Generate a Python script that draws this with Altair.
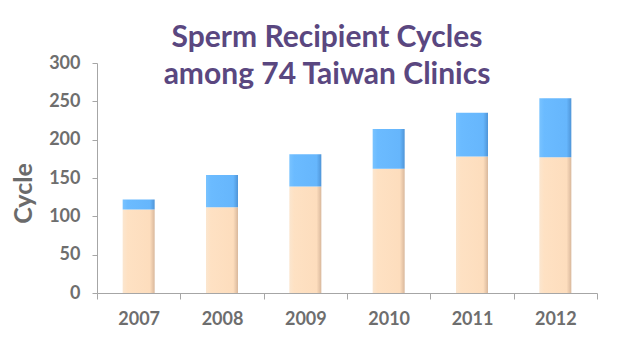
import altair as alt
import pandas as pd

years = ["2007", "2008", "2009", "2010", "2011", "2012"]
lower = [109, 112, 139, 162, 178, 177]
upper = [13, 42, 42, 52, 57, 77]

df = pd.DataFrame({"year": years, "lower": lower, "upper": upper})
df["total"] = df["lower"] + df["upper"]

peach = alt.Gradient(
    gradient="linear", x1=0, x2=1, y1=0, y2=0,
    stops=[alt.GradientStop(color="#FBE6CF", offset=0),
           alt.GradientStop(color="#FEE1C3", offset=0.15),
           alt.GradientStop(color="#FDDDBD", offset=0.85),
           alt.GradientStop(color="#D9B89C", offset=1)])
blue = alt.Gradient(
    gradient="linear", x1=0, x2=1, y1=0, y2=0,
    stops=[alt.GradientStop(color="#79C3FF", offset=0),
           alt.GradientStop(color="#6BBBFF", offset=0.15),
           alt.GradientStop(color="#66B6FC", offset=0.85),
           alt.GradientStop(color="#4F95D8", offset=1)])

xenc = alt.X("year:N", title=None,
             scale=alt.Scale(paddingInner=0, paddingOuter=0),
             axis=alt.Axis(labelAngle=0, tickBand="extent", tickSize=6,
                           labelPadding=11, labelFontSize=18, labelFont="Lato",
                           labelFontWeight="bold",
                           labelColor="#6E6E6E", domainColor="#A6A6A6",
                           tickColor="#A6A6A6"))

yaxis = alt.Axis(values=[0, 50, 100, 150, 200, 250, 300], grid=False,
                 labelOverlap=False,
                 tickSize=5, labelPadding=12, labelFontSize=18, labelFont="Lato",
                 labelFontWeight="bold",
                 labelColor="#6E6E6E", domainColor="#A6A6A6", tickColor="#A6A6A6",
                 title="Cycle", titleFont="Lato", titleFontSize=25,
                 titleFontWeight="bold", titleColor="#6B6B6B",
                 titleX=-66, titleY=130, titleAngle=-90, titleAlign="center",
                 titleBaseline="alphabetic")

base = alt.Chart(df)
low = base.mark_bar(size=32, color=peach).encode(
    x=xenc,
    y=alt.Y("lower:Q", scale=alt.Scale(domain=[0, 300]), axis=yaxis),
    y2=alt.Y2(datum=0),
)
up = base.mark_bar(size=32, color=blue).encode(
    x=xenc,
    y=alt.Y("total:Q", axis=yaxis),
    y2=alt.Y2("lower:Q"),
)

chart = alt.layer(low, up).properties(
    width=500, height=230,
    padding={"left": 97, "top": 63, "right": 43, "bottom": 58},
    autosize=alt.AutoSizeParams(type="none"),
    title=alt.TitleParams(
        text=["Sperm Recipient Cycles", "among 74 Taiwan Clinics"],
        font="Lato", fontSize=30, fontWeight="bold", color="#5A4780",
        anchor="middle", frame="group", offset=0, dx=-20, dy=36, lineHeight=37),
).configure_view(stroke=None)

chart.save("out.html", embed_options={"renderer": "svg", "actions": False})
